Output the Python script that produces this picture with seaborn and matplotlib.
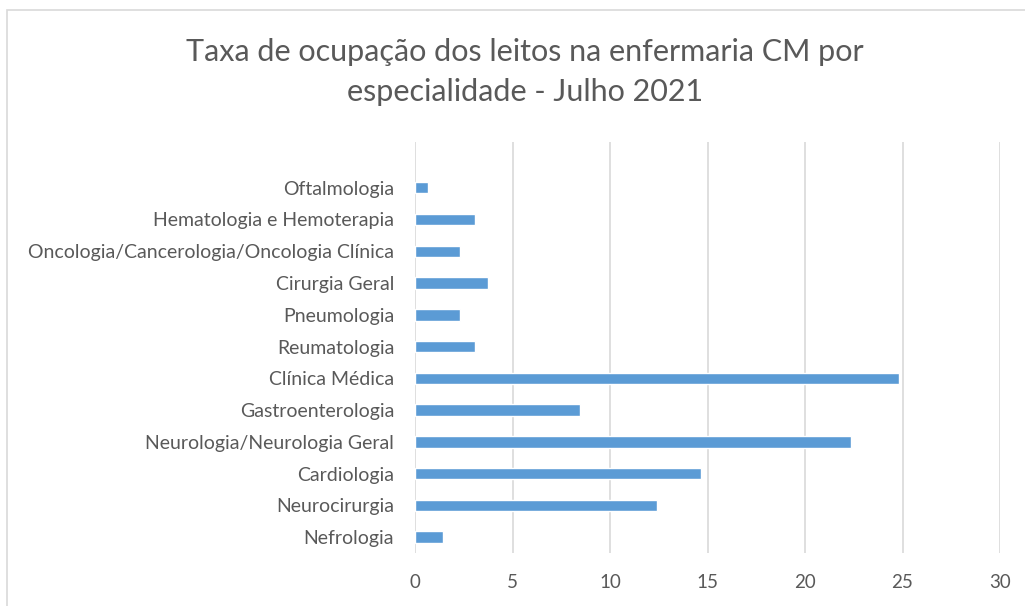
import matplotlib
matplotlib.use("Agg")
import matplotlib.pyplot as plt
import seaborn as sns
import pandas as pd
from matplotlib.patches import Rectangle

categories = [
    "Oftalmologia",
    "Hematologia e Hemoterapia",
    "Oncologia/Cancerologia/Oncologia Clínica",
    "Cirurgia Geral",
    "Pneumologia",
    "Reumatologia",
    "Clínica Médica",
    "Gastroenterologia",
    "Neurologia/Neurologia Geral",
    "Cardiologia",
    "Neurocirurgia",
    "Nefrologia",
]
values = [0.65, 3.10, 2.31, 3.73, 2.31, 3.10, 24.8, 8.47, 22.38, 14.69, 12.41, 1.45]
x_ticks = [0, 5, 10, 15, 20, 25, 30]

title = "Taxa de ocupação dos leitos na enfermaria CM por\nespecialidade - Julho 2021"

sns.set_theme(style="white")
plt.rcParams['font.family'] = ['Lato', 'DejaVu Sans']

W, H = 1025, 606
fig = plt.figure(figsize=(W / 100, H / 100), dpi=100)

# axes: x 415..1000, y 142..553 (pixels)
ax = fig.add_axes([415 / W, 1 - 553 / H, (1000 - 415) / W, (553 - 142) / H])

df = pd.DataFrame({"cat": categories, "val": values})
sns.barplot(data=df, x="val", y="cat", orient="h", color="#5B9BD5",
            saturation=1, width=0.36, ax=ax, order=categories)

ax.set_xlim(0, 30)
ax.set_ylim(11.5, -1.44)
ax.set_xticks(x_ticks)
ax.set_xticklabels([str(t) for t in x_ticks])
ax.set_xlabel("")
ax.set_ylabel("")
ax.grid(axis="x", color="#D9D9D9", linewidth=1.2)
ax.grid(axis="y", visible=False)
ax.set_axisbelow(True)
for s in ax.spines.values():
    s.set_visible(False)
ax.tick_params(axis="both", length=0, colors="#595959")
ax.tick_params(axis="x", pad=15, labelsize=13.5)
ax.tick_params(axis="y", pad=15, labelsize=14)

fig.text(525 / W, 1 - 72 / H, title, ha="center", va="center",
         fontsize=22, color="#595959", linespacing=1.5)

fig.patches.append(Rectangle((7 / W, -0.1), 1.2, 1 - 10 / H + 0.1,
                             transform=fig.transFigure, fill=False,
                             edgecolor="#D9D9D9", linewidth=1.2))

fig.savefig("out.png", dpi=100)
